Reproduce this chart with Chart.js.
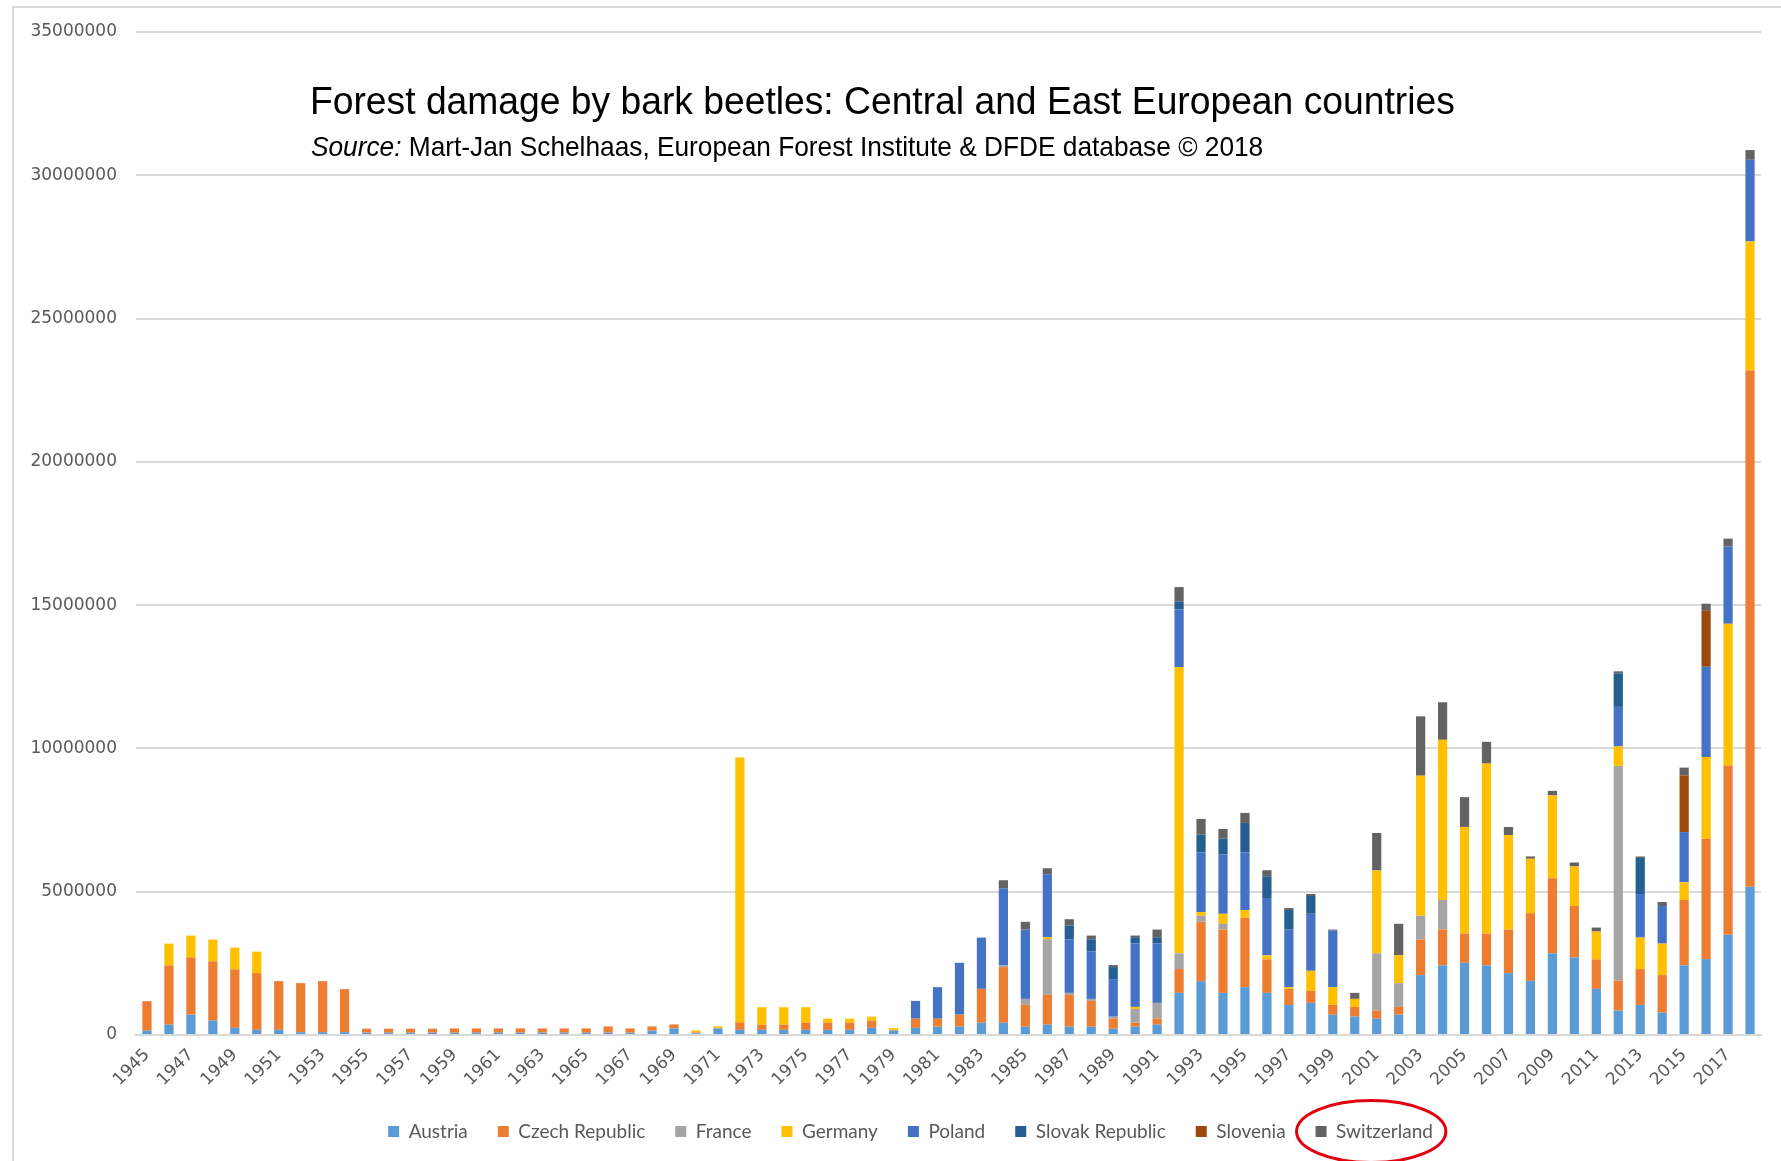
<!DOCTYPE html>
<html>
<head>
<meta charset="utf-8">
<script src="https://cdn.jsdelivr.net/npm/chart.js@4.4.1/dist/chart.umd.min.js"></script>
<style>
html, body { margin: 0; padding: 0; background: #fff; }
#wrap { position: relative; width: 1781px; height: 1161px; overflow: hidden; }
#frame { position: absolute; left: 12px; top: 6px; width: 1800px; height: 1200px; border: 2px solid #d9d9d9; box-sizing: border-box; }
#chart { position: absolute; left: 0; top: 0; }
#title { position: absolute; left: 310px; top: 82px; font: 38px 'Liberation Sans', Arial, sans-serif; line-height: 1; color: #000; white-space: nowrap; transform: scaleX(0.98); transform-origin: left top; }
#sub { position: absolute; left: 311px; top: 133px; font: 28px 'Liberation Sans', Arial, sans-serif; line-height: 1; color: #000; white-space: nowrap; transform: scaleX(0.938); transform-origin: left top; }
</style>
</head>
<body>
<div id="wrap">
  <div id="frame"></div>
  <canvas id="chart" width="1781" height="1161"></canvas>
  <div id="title">Forest damage by bark beetles: Central and East European countries</div>
  <div id="sub"><i>Source:</i> Mart-Jan Schelhaas, European Forest Institute &amp; DFDE database © 2018</div>
</div>
<script>
// categorias (anos)
var years = [1945,1946,1947,1948,1949,1950,1951,1952,1953,1954,
  1955,1956,1957,1958,1959,1960,1961,1962,1963,1964,
  1965,1966,1967,1968,1969,1970,1971,1972,1973,1974,
  1975,1976,1977,1978,1979,1980,1981,1982,1983,1984,
  1985,1986,1987,1988,1989,1990,1991,1992,1993,1994,
  1995,1996,1997,1998,1999,2000,2001,2002,2003,2004,
  2005,2006,2007,2008,2009,2010,2011,2012,2013,2014,
  2015,2016,2017,2018];

// valores por pais (m3)
var austria = [150000,360000,710000,500000,250000,180000,180000,100000,100000,100000,
  80000,80000,80000,80000,80000,80000,80000,80000,80000,80000,
  80000,80000,80000,150000,230000,60000,230000,180000,180000,180000,
  180000,180000,180000,250000,150000,250000,290000,290000,430000,430000,
  290000,360000,290000,290000,220000,290000,360000,1470000,1880000,1470000,
  1670000,1470000,1050000,1120000,710000,640000,570000,710000,2090000,2430000,
  2520000,2430000,2160000,1890000,2850000,2710000,1610000,850000,1050000,780000,
  2430000,2650000,3500000,5170000];
var czech = [1030000,2070000,2000000,2070000,2040000,1980000,1700000,1710000,1780000,1500000,
  140000,140000,140000,140000,150000,150000,150000,150000,150000,150000,
  150000,220000,150000,150000,140000,30000,0,260000,180000,180000,
  250000,250000,250000,250000,20000,320000,280000,420000,1180000,1940000,
  760000,1040000,1110000,900000,350000,140000,210000,830000,2070000,2210000,
  2420000,1170000,560000,420000,340000,340000,280000,270000,1240000,1250000,
  1020000,1110000,1520000,2360000,2620000,1790000,1030000,1040000,1250000,1310000,
  2280000,4200000,5900000,18020000];
var france = [0,0,0,0,0,0,0,0,0,0,
  0,0,0,0,0,0,0,0,0,0,
  0,0,0,0,0,0,0,0,0,0,
  0,0,0,0,0,0,0,0,0,60000,
  210000,1940000,70000,70000,70000,480000,550000,550000,210000,200000,
  0,0,0,0,0,0,2000000,830000,830000,1030000,
  0,0,0,0,0,0,0,7500000,0,0,
  0,0,0,0];
var germany = [0,760000,760000,760000,760000,750000,0,0,0,0,
  0,0,0,0,0,0,0,0,0,0,
  0,0,0,0,0,70000,70000,9240000,610000,610000,
  540000,140000,140000,140000,70000,0,0,0,0,0,
  0,70000,0,0,0,70000,0,9990000,130000,350000,
  270000,140000,60000,700000,620000,280000,2890000,970000,4890000,5590000,
  3720000,5930000,3300000,1900000,2890000,1380000,970000,680000,1100000,1100000,
  620000,2850000,4950000,4500000];
var poland = [0,0,0,0,0,0,0,0,0,0,
  0,0,0,0,0,0,0,0,0,0,
  0,0,0,0,0,0,0,0,0,0,
  0,0,0,0,0,620000,1100000,1810000,1790000,2690000,
  2420000,2200000,1870000,1660000,1310000,2220000,2080000,2010000,2080000,2070000,
  2010000,2000000,2010000,1990000,1970000,0,0,0,0,0,
  0,0,0,0,0,0,0,1380000,1520000,1310000,
  1750000,3150000,2700000,2850000];
var slovak = [0,0,0,0,0,0,0,0,0,0,
  0,0,0,0,0,0,0,0,0,0,
  0,0,0,0,0,0,0,0,0,0,
  0,0,0,0,0,0,0,0,0,0,
  0,0,480000,420000,420000,210000,210000,270000,620000,550000,
  1030000,760000,680000,620000,0,0,0,0,0,0,
  0,0,0,0,0,0,0,1170000,1260000,0,
  0,0,0,0];
var slovenia = [0,0,0,0,0,0,0,0,0,0,
  0,0,0,0,0,0,0,0,0,0,
  0,0,0,0,0,0,0,0,0,0,
  0,0,0,0,0,0,0,0,0,0,
  0,0,0,0,0,0,0,0,0,0,
  0,0,0,0,0,0,0,0,0,0,
  0,0,0,0,0,0,0,0,0,0,
  1980000,1950000,0,0];
var switzerland = [0,0,0,0,0,0,0,0,0,0,
  0,0,0,0,0,0,0,0,0,0,
  0,0,0,0,0,0,0,0,0,0,
  0,0,0,0,0,0,0,0,0,280000,
  270000,210000,220000,130000,70000,60000,270000,510000,550000,340000,
  350000,210000,70000,70000,40000,210000,1310000,1100000,2070000,1310000,
  1040000,760000,280000,80000,160000,140000,140000,70000,50000,140000,
  270000,250000,270000,340000];

var seriesNames = ['Austria','Czech Republic','France','Germany','Poland','Slovak Republic','Slovenia','Switzerland'];
var seriesData = [austria, czech, france, germany, poland, slovak, slovenia, switzerland];
var seriesColors = ['#5B9BD5','#ED7D31','#A5A5A5','#FFC000','#4472C4','#255E91','#9E480E','#636363'];
var yTicks = [0,5000000,10000000,15000000,20000000,25000000,30000000,35000000];

var tickFont = { family: 'DejaVu Sans', size: 17 };

// la leyenda va un poco a la derecha del centro, como en el original
var legendShift = {
  id: 'legendShift',
  afterLayout: function(chart) {
    chart.legend.left += 30;
    chart.legend.right += 30;
  }
};

// elipse roja alrededor de "Switzerland" en la leyenda
var circlePlugin = {
  id: 'circle',
  afterDraw: function(chart) {
    var hb = chart.legend.legendHitBoxes[7];
    if (!hb) return;
    var ctx = chart.ctx;
    ctx.save();
    ctx.strokeStyle = '#e3000f';
    ctx.lineWidth = 3;
    ctx.beginPath();
    ctx.ellipse(hb.left + hb.width / 2 - 3, hb.top + hb.height / 2, hb.width / 2 + 16, 31, 0, 0, Math.PI * 2);
    ctx.stroke();
    ctx.restore();
  }
};

var datasets = seriesNames.map(function(name, i) {
  return {
    label: name,
    data: seriesData[i],
    backgroundColor: seriesColors[i],
    borderWidth: 0,
    barPercentage: 0.42,
    categoryPercentage: 1.0
  };
});

new Chart(document.getElementById('chart'), {
  type: 'bar',
  data: { labels: years, datasets: datasets },
  plugins: [legendShift, circlePlugin],
  options: {
    responsive: false,
    animation: false,
    devicePixelRatio: 1,
    layout: { padding: { left: 0, right: 20, top: 32, bottom: 10 } },
    plugins: {
      legend: {
        position: 'bottom',
        labels: {
          boxWidth: 11,
          boxHeight: 11,
          padding: 30,
          color: '#595959',
          font: { family: 'Lato', size: 19 }
        }
      },
      tooltip: { enabled: false }
    },
    scales: {
      x: {
        stacked: true,
        grid: { display: false },
        border: { color: '#d9d9d9', width: 2 },
        afterFit: function(s) { s.height = 57; },
        ticks: {
          autoSkip: false,
          minRotation: 45,
          maxRotation: 45,
          color: '#595959',
          font: tickFont,
          padding: 2,
          callback: function(v, i) { return i % 2 === 0 ? years[i] : ''; }
        }
      },
      y: {
        stacked: true,
        min: 0,
        max: 35000000,
        afterFit: function(s) { s.width = 136; },
        afterBuildTicks: function(s) { s.ticks = yTicks.map(function(v) { return { value: v }; }); },
        grid: { color: '#d9d9d9', lineWidth: 2, drawTicks: false },
        border: { display: false },
        ticks: {
          color: '#595959',
          font: tickFont,
          padding: 19,
          callback: function(v) { return String(v); }
        }
      }
    }
  }
});
</script>
</body>
</html>
